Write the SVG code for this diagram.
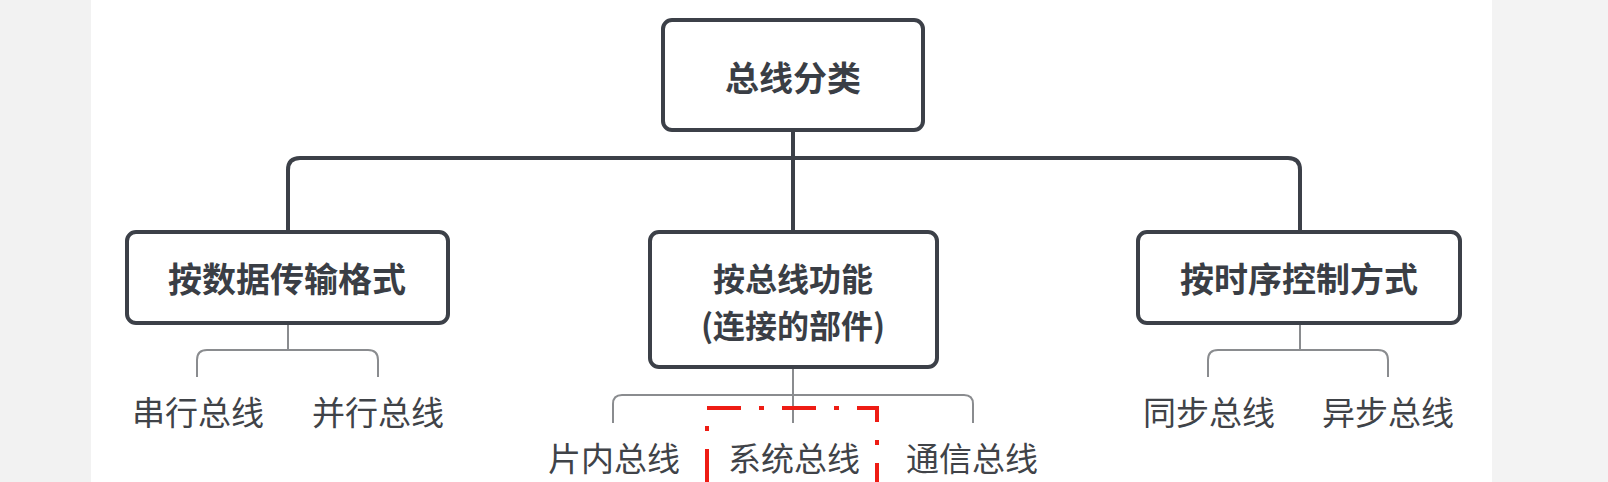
<svg xmlns="http://www.w3.org/2000/svg" width="1608" height="482" viewBox="0 0 1608 482">
  <style>
    .box { fill: #ffffff; stroke: #3c4048; stroke-width: 4; }
    .main { fill: none; stroke: #3c4048; stroke-width: 4; stroke-linecap: butt; }
    .thin { fill: none; stroke: #8a8c8f; stroke-width: 2; }
    .t { font-family: "Noto Sans CJK SC", "Noto Sans", sans-serif; font-size: 34px; font-weight: 700; fill: #3a3e45; text-anchor: middle; dominant-baseline: central; }
    .t2 { font-size: 32px; }
    .leaf { font-family: "Noto Sans CJK SC", "Noto Sans", sans-serif; font-size: 33px; font-weight: 400; fill: #404348; text-anchor: middle; dominant-baseline: central; }
    .hl { fill: none; stroke: #ee1c14; stroke-width: 4; stroke-dasharray: 34 18 5 18; }
  </style>
  <rect x="0" y="0" width="1608" height="482" fill="#ffffff"/>
  <rect x="0" y="0" width="91" height="482" fill="#f2f2f2"/>
  <rect x="1492" y="0" width="116" height="482" fill="#f3f3f3"/>

  <g id="connectors">
    <line class="main" x1="793" y1="130" x2="793" y2="232"/>
    <path class="main" d="M288 232 V170 Q288 158 300 158 H1288 Q1300 158 1300 170 V232"/>
    <line class="thin" x1="288" y1="323" x2="288" y2="350"/>
    <path class="thin" d="M197 377 V360 Q197 350 207 350 H368 Q378 350 378 360 V377"/>
    <line class="thin" x1="793" y1="367" x2="793" y2="423"/>
    <path class="thin" d="M613 423 V404 Q613 395 622 395 H964 Q973 395 973 404 V423"/>
    <line class="thin" x1="1300" y1="323" x2="1300" y2="350"/>
    <path class="thin" d="M1208 377 V360 Q1208 350 1218 350 H1378 Q1388 350 1388 360 V377"/>
  </g>

  <g id="root">
    <rect class="box" x="663" y="20" width="260" height="110" rx="9"/>
    <text class="t" x="793" y="76">总线分类</text>
  </g>
  <g id="by-format">
    <rect class="box" x="127" y="232" width="321" height="91" rx="9"/>
    <text class="t" x="287" y="277">按数据传输格式</text>
  </g>
  <g id="by-function">
    <rect class="box" x="650" y="232" width="287" height="135" rx="9"/>
    <text class="t t2" x="793" y="277">按总线功能</text>
    <text class="t t2" x="793" y="324">(连接的部件)</text>
  </g>
  <g id="by-timing">
    <rect class="box" x="1138" y="232" width="322" height="91" rx="9"/>
    <text class="t" x="1299" y="277">按时序控制方式</text>
  </g>

  <g id="serial"><text class="leaf" x="198" y="411">串行总线</text></g>
  <g id="parallel"><text class="leaf" x="378" y="411">并行总线</text></g>
  <g id="onchip"><text class="leaf" x="614" y="457">片内总线</text></g>
  <g id="system"><text class="leaf" x="794" y="457">系统总线</text></g>
  <g id="comm"><text class="leaf" x="972" y="457">通信总线</text></g>
  <g id="sync"><text class="leaf" x="1209" y="411">同步总线</text></g>
  <g id="async"><text class="leaf" x="1388" y="411">异步总线</text></g>

  <g id="highlight">
    <path class="hl" d="M707 483 V408 H877 V483"/>
  </g>
</svg>
